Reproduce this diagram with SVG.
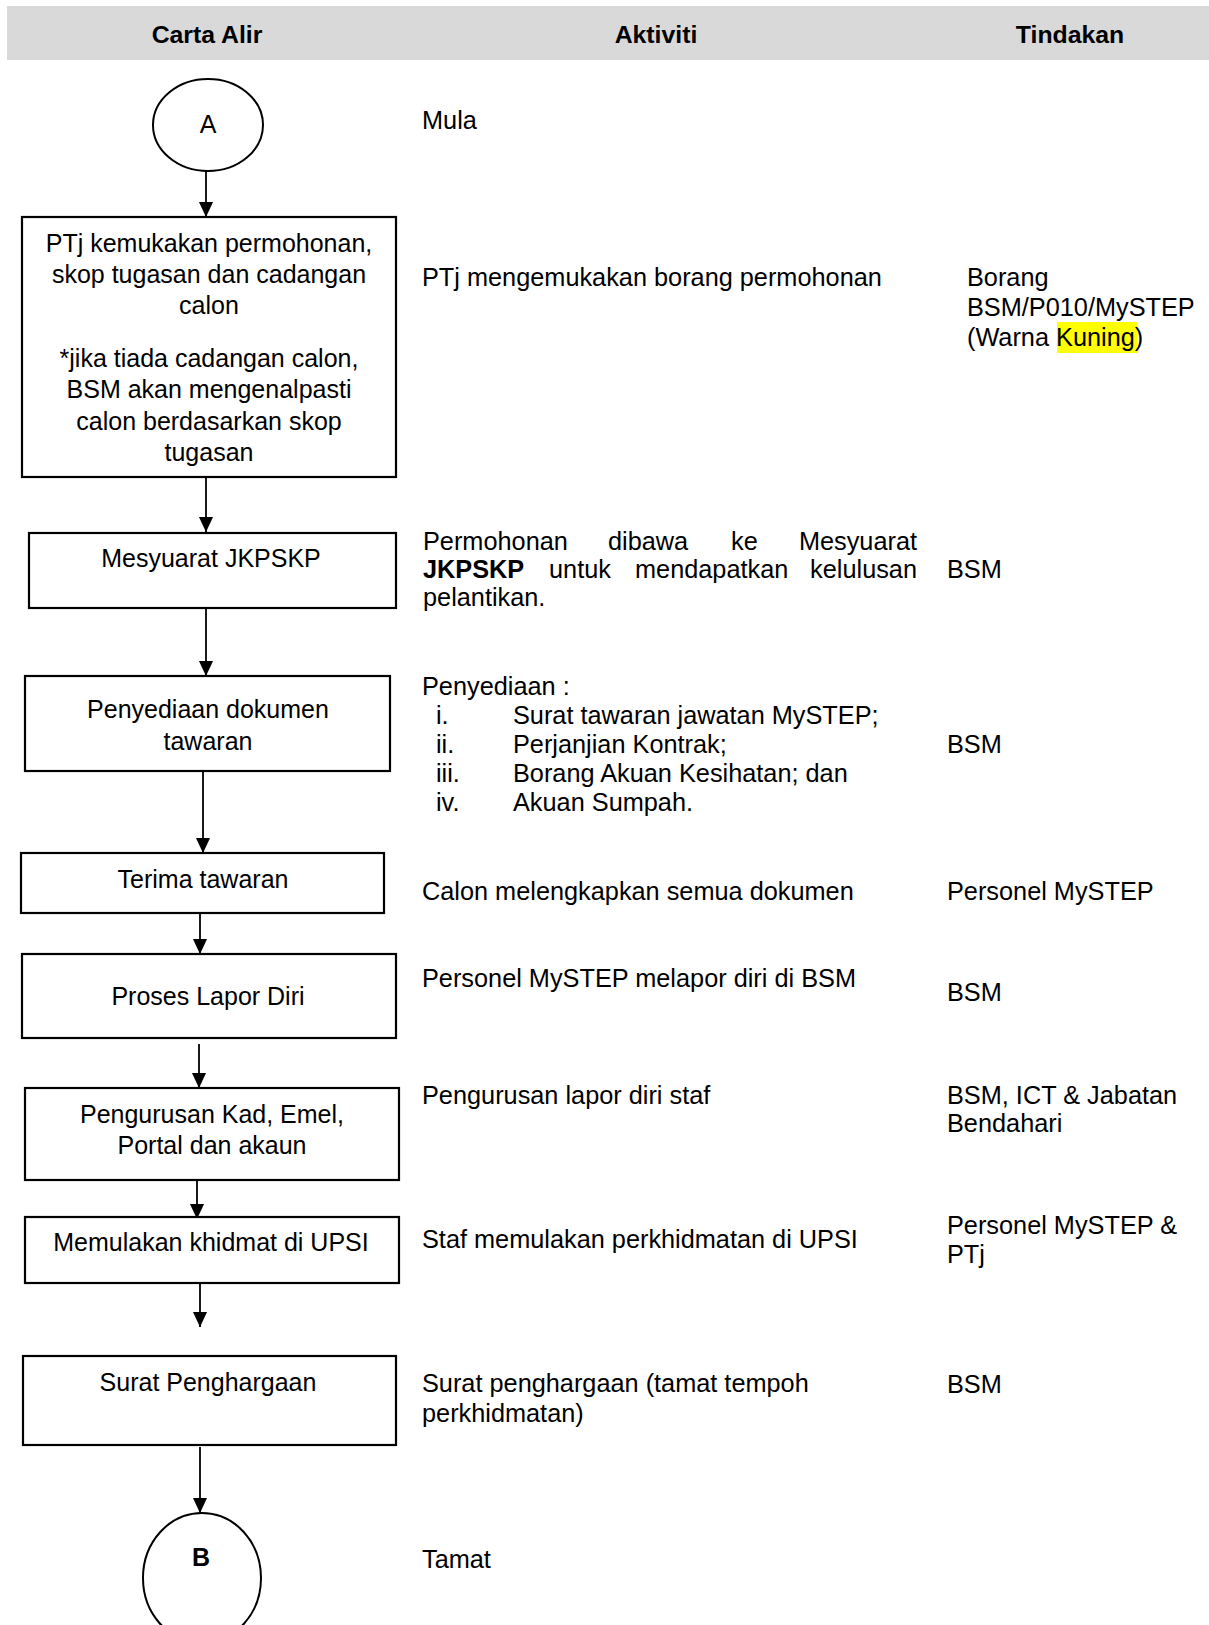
<svg xmlns="http://www.w3.org/2000/svg" width="1209" height="1625" viewBox="0 0 1209 1625">
<style>
text{font-family:"Liberation Sans",Arial,sans-serif;font-size:25.3px;fill:#000}
.h{font-weight:bold;font-size:24.8px;text-anchor:middle}
.c{text-anchor:middle;font-size:25px}
.b{font-weight:bold}
.e{text-anchor:end}
.box{fill:#fff;stroke:#000;stroke-width:2.2}
.ell{fill:#fff;stroke:#000;stroke-width:2}
.con{stroke:#000;stroke-width:1.8;fill:none;marker-end:url(#ah)}
</style>
<defs>
<marker id="ah" markerWidth="15" markerHeight="16" refX="16" refY="7.5" orient="auto" markerUnits="userSpaceOnUse" viewBox="0 0 16 15"><path d="M0,0 L16,7.5 L0,15 z" fill="#000"/></marker>
</defs>
<rect width="1209" height="1625" fill="#fff"/>
<g id="header">
<rect x="7" y="6" width="1202" height="54" fill="#d9d9d9"/>
<text class="h" x="207" y="43">Carta Alir</text>
<text class="h" x="656" y="43">Aktiviti</text>
<text class="h" x="1070" y="43">Tindakan</text>
</g>
<g id="connectors">
<line class="con" x1="206" y1="171" x2="206" y2="217"/>
<line class="con" x1="206" y1="477" x2="206" y2="532"/>
<line class="con" x1="206" y1="608" x2="206" y2="676"/>
<line class="con" x1="203" y1="771" x2="203" y2="853"/>
<line class="con" x1="200" y1="910" x2="200" y2="954"/>
<line class="con" x1="199" y1="1044" x2="199" y2="1088"/>
<line class="con" x1="197" y1="1177" x2="197" y2="1219"/>
<line class="con" x1="200" y1="1283" x2="200" y2="1327"/>
<line class="con" x1="200" y1="1447" x2="200" y2="1513"/>
</g>
<g id="nodeA">
<ellipse class="ell" cx="208" cy="125" rx="55" ry="46"/>
<text class="c" x="208" y="133">A</text>
</g>
<g id="node1">
<rect class="box" x="22" y="217" width="374" height="260"/>
<text class="c" x="209" y="252">PTj kemukakan permohonan,</text>
<text class="c" x="209" y="283">skop tugasan dan cadangan</text>
<text class="c" x="209" y="314">calon</text>
<text class="c" x="209" y="367">*jika tiada cadangan calon,</text>
<text class="c" x="209" y="398">BSM akan mengenalpasti</text>
<text class="c" x="209" y="430">calon berdasarkan skop</text>
<text class="c" x="209" y="461">tugasan</text>
</g>
<g id="node2">
<rect class="box" x="29" y="533" width="367" height="75"/>
<text class="c" x="211" y="567">Mesyuarat JKPSKP</text>
</g>
<g id="node3">
<rect class="box" x="25" y="676" width="365" height="95"/>
<text class="c" x="208" y="718">Penyediaan dokumen</text>
<text class="c" x="208" y="750">tawaran</text>
</g>
<g id="node4">
<rect class="box" x="21" y="853" width="363" height="60"/>
<text class="c" x="203" y="888">Terima tawaran</text>
</g>
<g id="node5">
<rect class="box" x="22" y="954" width="374" height="84"/>
<text class="c" x="208" y="1005">Proses Lapor Diri</text>
</g>
<g id="node6">
<rect class="box" x="25" y="1088" width="374" height="92"/>
<text class="c" x="212" y="1123">Pengurusan Kad, Emel,</text>
<text class="c" x="212" y="1154">Portal dan akaun</text>
</g>
<g id="node7">
<rect class="box" x="25" y="1217" width="374" height="66"/>
<text class="c" x="211" y="1251">Memulakan khidmat di UPSI</text>
</g>
<g id="node8">
<rect class="box" x="23" y="1356" width="373" height="89"/>
<text class="c" x="208" y="1391">Surat Penghargaan</text>
</g>
<g id="nodeB">
<ellipse class="ell" cx="202" cy="1578" rx="59" ry="65"/>
<text class="c b" x="201" y="1566">B</text>
</g>
<g id="aktiviti">
<text x="422" y="129">Mula</text>
<text x="422" y="286">PTj mengemukakan borang permohonan</text>
<text x="423" y="550">Permohonan</text>
<text x="608" y="550">dibawa</text>
<text x="731" y="550">ke</text>
<text class="e" x="917" y="550">Mesyuarat</text>
<text class="b" x="423" y="578">JKPSKP</text>
<text x="549" y="578">untuk</text>
<text x="635" y="578">mendapatkan</text>
<text class="e" x="917" y="578">kelulusan</text>
<text x="423" y="606">pelantikan.</text>
<text x="422" y="695">Penyediaan :</text>
<text x="436" y="724">i.</text><text x="513" y="724">Surat tawaran jawatan MySTEP;</text>
<text x="436" y="753">ii.</text><text x="513" y="753">Perjanjian Kontrak;</text>
<text x="436" y="782">iii.</text><text x="513" y="782">Borang Akuan Kesihatan; dan</text>
<text x="436" y="811">iv.</text><text x="513" y="811">Akuan Sumpah.</text>
<text x="422" y="900">Calon melengkapkan semua dokumen</text>
<text x="422" y="987">Personel MySTEP melapor diri di BSM</text>
<text x="422" y="1104">Pengurusan lapor diri staf</text>
<text x="422" y="1248">Staf memulakan perkhidmatan di UPSI</text>
<text x="422" y="1392">Surat penghargaan (tamat tempoh</text>
<text x="422" y="1422">perkhidmatan)</text>
<text x="422" y="1568">Tamat</text>
</g>
<g id="tindakan">
<rect x="1057" y="322" width="80" height="31" fill="#ffff00"/>
<text x="967" y="286">Borang</text>
<text x="967" y="316">BSM/P010/MySTEP</text>
<text x="967" y="346">(Warna Kuning)</text>
<text x="947" y="578">BSM</text>
<text x="947" y="753">BSM</text>
<text x="947" y="900">Personel MySTEP</text>
<text x="947" y="1001">BSM</text>
<text x="947" y="1104">BSM, ICT &amp; Jabatan</text>
<text x="947" y="1132">Bendahari</text>
<text x="947" y="1234">Personel MySTEP &amp;</text>
<text x="947" y="1263">PTj</text>
<text x="947" y="1393">BSM</text>
</g>
</svg>
